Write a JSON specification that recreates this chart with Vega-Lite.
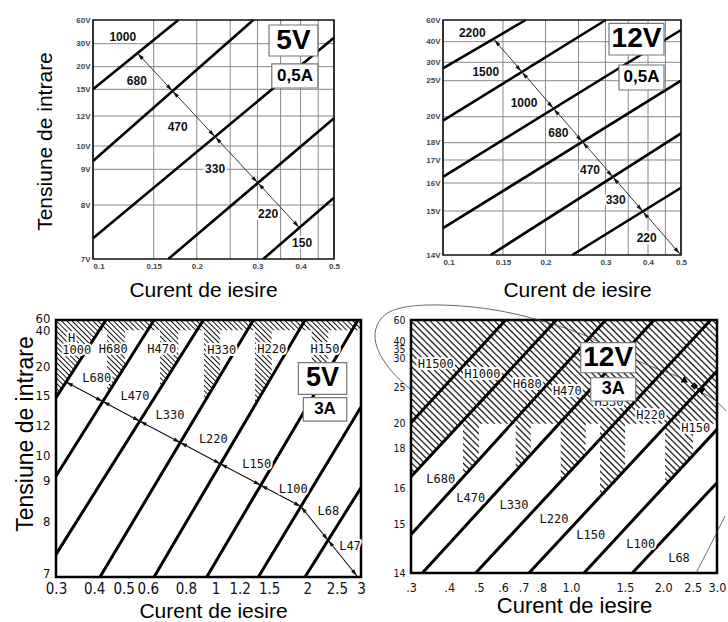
{
"$schema": "https://vega.github.io/schema/vega-lite/v6.json",
"padding": {"left": 12, "top": 14, "right": 0, "bottom": 0},
"config": {"view": {"stroke": null}},
"bounds": "flush",
"columns": 2,
"spacing": {"row": 61, "column": 50},
"datasets": {
"p1L": [{"id":1,"x":0.1,"v":15},{"id":1,"x":0.1768,"v":60},{"id":2,"x":0.1,"v":9.356},{"id":2,"x":0.2917,"v":60},{"id":3,"x":0.1,"v":7.383},{"id":3,"x":0.5,"v":37.6},{"id":4,"x":0.1654,"v":7},{"id":4,"x":0.5,"v":11.85},{"id":5,"x":0.3118,"v":7},{"id":5,"x":0.5,"v":8.204}],
"p1GX": [{"x":0.15,"v":7,"v2":60},{"x":0.2,"v":7,"v2":60},{"x":0.25,"v":7,"v2":60},{"x":0.3,"v":7,"v2":60},{"x":0.35,"v":7,"v2":60},{"x":0.4,"v":7,"v2":60},{"x":0.45,"v":7,"v2":60}],
"p1GY": [{"v":8,"x":0.1,"x2":0.5},{"v":9,"x":0.1,"x2":0.5},{"v":10,"x":0.1,"x2":0.5},{"v":12,"x":0.1,"x2":0.5},{"v":15,"x":0.1,"x2":0.5},{"v":20,"x":0.1,"x2":0.5},{"v":30,"x":0.1,"x2":0.5}],
"p1F": [{"x":0.1,"x2":0.5,"v":7,"v2":60}],
"p1A": [{"x":0.1346,"v":25.87},{"x":0.3968,"v":7.581}],
"p1H": [{"d":"ul","x":0.1369,"v":24.61},{"d":"ul","x":0.1731,"v":14.48},{"d":"ul","x":0.23,"v":10.43},{"d":"ul","x":0.3061,"v":8.54},{"d":"dr","x":0.167,"v":15.27},{"d":"dr","x":0.2218,"v":10.81},{"d":"dr","x":0.2952,"v":8.7},{"d":"dr","x":0.3897,"v":7.635}],
"p1T": [{"t":"1000","x":0.122,"v":38.5},{"t":"680","x":0.134,"v":16.84},{"t":"470","x":0.176,"v":11.27},{"t":"330","x":0.226,"v":9.01},{"t":"220","x":0.322,"v":7.83},{"t":"150","x":0.404,"v":7.3}],
"p1B": [{"x":0.324,"x2":0.449,"v":53.7,"v2":24.65},{"x":0.33,"x2":0.449,"v":21.2,"v2":15.29}],
"p1BT": [{"k":"a","t":"5V","x":0.3815,"v":34.05},{"k":"b","t":"0,5A","x":0.3853,"v":17.94}],
"p2L": [{"id":1,"x":0.1,"v":28.37},{"id":1,"x":0.1749,"v":60},{"id":2,"x":0.1,"v":19.69},{"id":2,"x":0.3005,"v":60},{"id":3,"x":0.1,"v":16.27},{"id":3,"x":0.5,"v":50.8},{"id":4,"x":0.1,"v":14.61},{"id":4,"x":0.5,"v":25},{"id":5,"x":0.138,"v":14},{"id":5,"x":0.5,"v":18.72},{"id":6,"x":0.2397,"v":14},{"id":6,"x":0.5,"v":15.83}],
"p2GX": [{"x":0.15,"v":14,"v2":60},{"x":0.2,"v":14,"v2":60},{"x":0.25,"v":14,"v2":60},{"x":0.3,"v":14,"v2":60},{"x":0.35,"v":14,"v2":60},{"x":0.4,"v":14,"v2":60},{"x":0.45,"v":14,"v2":60}],
"p2GY": [{"v":15,"x":0.1,"x2":0.5},{"v":16,"x":0.1,"x2":0.5},{"v":17,"x":0.1,"x2":0.5},{"v":18,"x":0.1,"x2":0.5},{"v":20,"x":0.1,"x2":0.5},{"v":25,"x":0.1,"x2":0.5},{"v":30,"x":0.1,"x2":0.5},{"v":40,"x":0.1,"x2":0.5}],
"p2F": [{"x":0.1,"x2":0.5,"v":14,"v2":60}],
"p2A": [{"x":0.1412,"v":42.03},{"x":0.4966,"v":14.02}],
"p2H": [{"d":"ul","x":0.1437,"v":39.61},{"d":"ul","x":0.1733,"v":26.58},{"d":"ul","x":0.2148,"v":20.71},{"d":"ul","x":0.2612,"v":17.87},{"d":"ul","x":0.3208,"v":16.13},{"d":"ul","x":0.3928,"v":14.92},{"d":"dr","x":0.1673,"v":28.21},{"d":"dr","x":0.2074,"v":21.54},{"d":"dr","x":0.2522,"v":18.29},{"d":"dr","x":0.3097,"v":16.39},{"d":"dr","x":0.3792,"v":15.09},{"d":"dr","x":0.488,"v":14.09}],
"p2T": [{"t":"2200","x":0.1219,"v":47.74},{"t":"1500","x":0.1335,"v":27.45},{"t":"1000","x":0.1729,"v":21.94},{"t":"680","x":0.2181,"v":18.77},{"t":"470","x":0.2702,"v":16.57},{"t":"330","x":0.3215,"v":15.39},{"t":"220","x":0.3965,"v":14.39}],
"p2B": [{"x":0.3073,"x2":0.4457,"v":56.96,"v2":33.54},{"x":0.3287,"x2":0.4457,"v":29.27,"v2":23.71}],
"p2BT": [{"k":"a","t":"12V","x":0.3701,"v":42.3},{"k":"b","t":"0,5A","x":0.3828,"v":25.87}],
"p3L": [{"id":1,"x":0.3,"v":14.76},{"id":1,"x":0.4376,"v":60},{"id":2,"x":0.3,"v":9.175},{"id":2,"x":0.6289,"v":60},{"id":3,"x":0.3,"v":7.41},{"id":3,"x":0.9124,"v":60},{"id":4,"x":0.4182,"v":7},{"id":4,"x":1.331,"v":60},{"id":5,"x":0.6289,"v":7},{"id":5,"x":1.966,"v":60},{"id":6,"x":0.9361,"v":7},{"id":6,"x":2.933,"v":60},{"id":7,"x":1.382,"v":7},{"id":7,"x":3,"v":13.82},{"id":8,"x":1.966,"v":7},{"id":8,"x":3,"v":8.821}],
"p3G": [{"x":0.3,"v":14.76},{"x":0.4164,"v":40},{"x":0.441,"v":40},{"x":0.4411,"v":15.09},{"x":0.5052,"v":20.27},{"x":0.5053,"v":40},{"x":0.658,"v":40},{"x":0.6581,"v":16.12},{"x":0.7553,"v":23.79},{"x":0.7554,"v":40},{"x":0.9172,"v":40},{"x":0.9173,"v":14.26},{"x":1.035,"v":18.41},{"x":1.0351,"v":40},{"x":1.348,"v":40},{"x":1.3481,"v":14.01},{"x":1.529,"v":18.25},{"x":1.5291,"v":40},{"x":2.068,"v":40},{"x":2.0681,"v":14.67},{"x":2.344,"v":19.35},{"x":2.3441,"v":40},{"x":3,"v":40}],
"p3A": [{"x":0.3235,"v":17.33},{"x":0.4271,"v":14.37},{"x":0.5649,"v":12.39},{"x":0.7662,"v":10.86},{"x":1.039,"v":9.667},{"x":1.407,"v":8.882},{"x":1.906,"v":8.367},{"x":2.34,"v":7.665},{"x":2.911,"v":7.018}],
"p3H": [{"d":"ul","x":0.3312,"v":17.05},{"d":"ul","x":0.4372,"v":14.21},{"d":"ul","x":0.5783,"v":12.23},{"d":"ul","x":0.7844,"v":10.76},{"d":"ul","x":1.063,"v":9.602},{"d":"ul","x":1.44,"v":8.843},{"d":"dr","x":0.4173,"v":14.54},{"d":"dr","x":0.5518,"v":12.56},{"d":"dr","x":0.7486,"v":10.96},{"d":"dr","x":1.015,"v":9.732},{"d":"dr","x":1.374,"v":8.92},{"d":"dr","x":1.862,"v":8.406},{"d":"ul2","x":1.938,"v":8.302},{"d":"ul2","x":2.379,"v":7.617},{"d":"dr2","x":2.301,"v":7.714},{"d":"dr2","x":2.863,"v":7.067}],
"p3T": [{"t":"H","x":0.3377,"v":35.93},{"t":"1000","x":0.3507,"v":29.01},{"t":"H680","x":0.4624,"v":29.56},{"t":"H470","x":0.6665,"v":29.56},{"t":"H330","x":1.0485,"v":29.01},{"t":"H220","x":1.529,"v":29.56},{"t":"H150","x":2.286,"v":29.56},{"t":"L680","x":0.408,"v":18.08},{"t":"L470","x":0.5447,"v":14.93},{"t":"L330","x":0.7094,"v":12.98},{"t":"L220","x":0.984,"v":11.07},{"t":"L150","x":1.365,"v":9.65},{"t":"L100","x":1.799,"v":8.783},{"t":"L68","x":2.344,"v":8.258},{"t":"L47","x":2.761,"v":7.561}],
"p3B": [{"x":1.869,"x2":2.694,"v":22.2,"v2":15.17},{"x":1.941,"x2":2.694,"v":14.76,"v2":12.4}],
"p3BT": [{"k":"a","t":"5V","x":2.243,"v":17.94},{"k":"b","t":"3A","x":2.286,"v":13.59}],
"p4L": [{"id":1,"x":0.3,"v":20.14},{"id":1,"x":0.6117,"v":60},{"id":2,"x":0.3,"v":16.58},{"id":2,"x":0.8956,"v":60},{"id":3,"x":0.3,"v":14.79},{"id":3,"x":1.298,"v":60},{"id":4,"x":0.3267,"v":14},{"id":4,"x":1.867,"v":60},{"id":5,"x":0.4881,"v":14},{"id":5,"x":2.861,"v":60},{"id":6,"x":0.729,"v":14},{"id":6,"x":3,"v":27.62},{"id":7,"x":1.103,"v":14},{"id":7,"x":3,"v":19.54},{"id":8,"x":1.586,"v":14},{"id":8,"x":3,"v":16.28}],
"p4G": [{"x":0.3,"v":16.58},{"x":0.4339,"v":20},{"x":0.4437,"v":20},{"x":0.4438,"v":16.58},{"x":0.5003,"v":17.46},{"x":0.5004,"v":20},{"x":0.6595,"v":20},{"x":0.6596,"v":16.88},{"x":0.7383,"v":17.69},{"x":0.7384,"v":20},{"x":0.9255,"v":20},{"x":0.9256,"v":16.35},{"x":1.117,"v":17.7},{"x":1.1171,"v":20},{"x":1.244,"v":20},{"x":1.2441,"v":15.78},{"x":1.502,"v":16.94},{"x":1.5021,"v":20},{"x":2.029,"v":20},{"x":2.0291,"v":16.16},{"x":2.505,"v":17.67},{"x":2.5051,"v":20},{"x":3,"v":20}],
"p4T": [{"t":"H1500","x":0.3614,"v":28.72},{"t":"H1000","x":0.5131,"v":27.18},{"t":"H680","x":0.7197,"v":25.54},{"t":"H470","x":0.9729,"v":24.46},{"t":"H330","x":1.331,"v":22.96},{"t":"H220","x":1.822,"v":21.14},{"t":"H150","x":2.556,"v":19.63},{"t":"L680","x":0.3751,"v":16.45},{"t":"L470","x":0.4702,"v":15.74},{"t":"L330","x":0.6513,"v":15.54},{"t":"L220","x":0.88,"v":15.14},{"t":"L150","x":1.16,"v":14.79},{"t":"L100","x":1.69,"v":14.6},{"t":"L68","x":2.254,"v":14.31}],
"p4B": [{"x":1.076,"x2":1.627,"v":40.26,"v2":27.34},{"x":1.16,"x2":1.627,"v":26.52,"v2":23.09}],
"p4BT": [{"k":"a","t":"12V","x":1.323,"v":29.8},{"k":"b","t":"3A","x":1.374,"v":24.69}],
"p4M": [{"s":"a","x":2.345,"v":26.26},{"s":"b","x":2.529,"v":25.16},{"s":"c","x":2.674,"v":24.41}],
"p4C": [{"id":1,"o":1,"x":0.2977,"v":24.73},{"id":1,"o":2,"x":0.26,"v":27.3},{"id":1,"o":3,"x":0.234,"v":32.5},{"id":1,"o":4,"x":0.2253,"v":47.83},{"id":1,"o":5,"x":0.2376,"v":62.61},{"id":1,"o":6,"x":0.266,"v":70.43},{"id":1,"o":7,"x":0.3333,"v":73.91},{"id":1,"o":8,"x":0.4676,"v":72.17},{"id":1,"o":9,"x":0.6318,"v":66.96},{"id":1,"o":10,"x":0.8537,"v":57.39},{"id":1,"o":11,"x":1.154,"v":46.09},{"id":1,"o":12,"x":1.619,"v":29.26},{"id":1,"o":13,"x":2.305,"v":26.48},{"id":2,"o":1,"x":2.7,"v":24.18},{"id":2,"o":2,"x":2.978,"v":23.23},{"id":2,"o":3,"x":3.211,"v":21.73},{"id":3,"o":1,"x":2.562,"v":14},{"id":3,"o":2,"x":2.846,"v":14.55},{"id":3,"o":3,"x":3.186,"v":15.23}]
},
"concat": [
 {"width": 305, "height": 239,
  "encoding": {
   "x": {"field": "x", "type": "quantitative", "scale": {"type": "log", "domain": [0.1, 0.5], "range": [37, 278], "nice": false},
    "axis": {"values": [0.1,0.15,0.2,0.3,0.4,0.5], "format": "~g", "grid": false, "ticks": false, "domain": false, "labelFont": "Liberation Sans", "labelFontSize": 8, "labelFontWeight": "bold", "labelColor": "#444", "labelPadding": 3, "labelFlush": false, "labelOverlap": false, "labelAlign": {"condition": {"test": "datum.value == 0.1", "value": "left"}, "value": "center"}, "title": "Curent de iesire", "titleFont": "Liberation Sans", "titleFontSize": 21, "titleFontWeight": "normal", "titleColor": "#000", "titleX": 147, "titleY": 37, "titleBaseline": "alphabetic", "titleAlign": "center"}},
   "y": {"field": "v", "type": "quantitative", "scale": {"domain": [7,8,9,10,12,15,20,30,60], "range": [239,185,149.3,126,96,69.3,46.7,23.7,0], "nice": false, "zero": false},
    "axis": {"offset": -37, "values": [7,8,9,10,12,15,20,30,60], "labelExpr": "datum.value + 'V'", "grid": false, "ticks": false, "domain": false, "labelFont": "Liberation Sans", "labelFontSize": 8, "labelFontWeight": "bold", "labelColor": "#444", "labelPadding": 3, "labelFlush": false, "labelOverlap": false, "title": "Tensiune de intrare", "titleFont": "Liberation Sans", "titleFontSize": 21, "titleFontWeight": "normal", "titleColor": "#000", "titleX": -41.5, "titleY": 121, "titleBaseline": "alphabetic", "titleAngle": 270}}
  },
  "layer": [
   {"data": {"name": "p1GX"}, "mark": {"type": "rule", "color": "#888", "strokeWidth": 1}, "encoding": {"y2": {"field": "v2"}}},
   {"data": {"name": "p1GY"}, "mark": {"type": "rule", "color": "#888", "strokeWidth": 1}, "encoding": {"x2": {"field": "x2"}}},
   {"data": {"name": "p1L"}, "mark": {"type": "line", "color": "#000", "strokeWidth": 2.6}, "encoding": {"detail": {"field": "id", "type": "nominal"}}},
   {"data": {"name": "p1A"}, "mark": {"type": "line", "color": "#222", "strokeWidth": 0.9}, "encoding": {}},
   {"data": {"name": "p1H"}, "transform": [{"filter": "datum.d == 'dr'"}], "mark": {"type": "point", "shape": "M0,-1L0.55,1L-0.55,1Z", "filled": true, "color": "#111", "opacity": 1, "size": 49, "angle": 137}},
   {"data": {"name": "p1H"}, "transform": [{"filter": "datum.d == 'ul'"}], "mark": {"type": "point", "shape": "M0,-1L0.55,1L-0.55,1Z", "filled": true, "color": "#111", "opacity": 1, "size": 49, "angle": 317}},
   {"data": {"name": "p1T"}, "mark": {"type": "text", "font": "Liberation Sans", "fontSize": 12, "fontWeight": "bold", "stroke": "#fff", "strokeWidth": 4, "strokeJoin": "round", "color": "#fff"}, "encoding": {"text": {"field": "t"}}},
   {"data": {"name": "p1T"}, "mark": {"type": "text", "font": "Liberation Sans", "fontSize": 12, "fontWeight": "bold", "color": "#111"}, "encoding": {"text": {"field": "t"}}},
   {"data": {"name": "p1B"}, "mark": {"type": "rect", "fill": "#fff", "stroke": "#777", "strokeWidth": 1.2}, "encoding": {"x2": {"field": "x2"}, "y2": {"field": "v2"}}},
   {"data": {"name": "p1BT"}, "transform": [{"filter": "datum.k == 'a'"}], "mark": {"type": "text", "font": "Liberation Sans", "fontSize": 28, "fontWeight": "bold", "color": "#000"}, "encoding": {"text": {"field": "t"}}},
   {"data": {"name": "p1BT"}, "transform": [{"filter": "datum.k == 'b'"}], "mark": {"type": "text", "font": "Liberation Sans", "fontSize": 17, "fontWeight": "bold", "color": "#000"}, "encoding": {"text": {"field": "t"}}},
   {"data": {"name": "p1F"}, "mark": {"type": "rect", "fill": null, "stroke": "#111", "strokeWidth": 1.7}, "encoding": {"x2": {"field": "x2"}, "y2": {"field": "v2"}}}
  ]
 },
 {"width": 306, "height": 235,
  "encoding": {
   "x": {"field": "x", "type": "quantitative", "scale": {"type": "log", "domain": [0.1, 0.5], "range": [32, 270], "nice": false},
    "axis": {"values": [0.1,0.15,0.2,0.3,0.4,0.5], "format": "~g", "grid": false, "ticks": false, "domain": false, "labelFont": "Liberation Sans", "labelFontSize": 8, "labelFontWeight": "bold", "labelColor": "#444", "labelPadding": 3, "labelFlush": false, "labelOverlap": false, "labelAlign": {"condition": {"test": "datum.value == 0.1", "value": "left"}, "value": "center"}, "title": "Curent de iesire", "titleFont": "Liberation Sans", "titleFontSize": 21, "titleFontWeight": "normal", "titleColor": "#000", "titleX": 166, "titleY": 41, "titleBaseline": "alphabetic", "titleAlign": "center"}},
   "y": {"field": "v", "type": "quantitative", "scale": {"domain": [14,15,16,17,18,20,25,30,40,60], "range": [235,191,163,140,122.7,96.7,60.7,42.3,21.7,0], "nice": false, "zero": false},
    "axis": {"offset": -32, "values": [14,15,16,17,18,20,25,30,40,60], "labelExpr": "datum.value + 'V'", "grid": false, "ticks": false, "domain": false, "labelFont": "Liberation Sans", "labelFontSize": 8, "labelFontWeight": "bold", "labelColor": "#444", "labelPadding": 3, "labelFlush": false, "labelOverlap": false, "title": null}}
  },
  "layer": [
   {"data": {"name": "p2GX"}, "mark": {"type": "rule", "color": "#888", "strokeWidth": 1}, "encoding": {"y2": {"field": "v2"}}},
   {"data": {"name": "p2GY"}, "mark": {"type": "rule", "color": "#888", "strokeWidth": 1}, "encoding": {"x2": {"field": "x2"}}},
   {"data": {"name": "p2L"}, "mark": {"type": "line", "color": "#000", "strokeWidth": 2.6}, "encoding": {"detail": {"field": "id", "type": "nominal"}}},
   {"data": {"name": "p2A"}, "mark": {"type": "line", "color": "#222", "strokeWidth": 0.9}, "encoding": {}},
   {"data": {"name": "p2H"}, "transform": [{"filter": "datum.d == 'dr'"}], "mark": {"type": "point", "shape": "M0,-1L0.55,1L-0.55,1Z", "filled": true, "color": "#111", "opacity": 1, "size": 49, "angle": 139}},
   {"data": {"name": "p2H"}, "transform": [{"filter": "datum.d == 'ul'"}], "mark": {"type": "point", "shape": "M0,-1L0.55,1L-0.55,1Z", "filled": true, "color": "#111", "opacity": 1, "size": 49, "angle": 319}},
   {"data": {"name": "p2T"}, "mark": {"type": "text", "font": "Liberation Sans", "fontSize": 12, "fontWeight": "bold", "stroke": "#fff", "strokeWidth": 4, "strokeJoin": "round", "color": "#fff"}, "encoding": {"text": {"field": "t"}}},
   {"data": {"name": "p2T"}, "mark": {"type": "text", "font": "Liberation Sans", "fontSize": 12, "fontWeight": "bold", "color": "#111"}, "encoding": {"text": {"field": "t"}}},
   {"data": {"name": "p2B"}, "mark": {"type": "rect", "fill": "#fff", "stroke": "#777", "strokeWidth": 1.2}, "encoding": {"x2": {"field": "x2"}, "y2": {"field": "v2"}}},
   {"data": {"name": "p2BT"}, "transform": [{"filter": "datum.k == 'a'"}], "mark": {"type": "text", "font": "Liberation Sans", "fontSize": 28, "fontWeight": "bold", "color": "#000"}, "encoding": {"text": {"field": "t"}}},
   {"data": {"name": "p2BT"}, "transform": [{"filter": "datum.k == 'b'"}], "mark": {"type": "text", "font": "Liberation Sans", "fontSize": 17, "fontWeight": "bold", "color": "#000"}, "encoding": {"text": {"field": "t"}}},
   {"data": {"name": "p2F"}, "mark": {"type": "rect", "fill": null, "stroke": "#111", "strokeWidth": 1.7}, "encoding": {"x2": {"field": "x2"}, "y2": {"field": "v2"}}}
  ]
 },
 {"width": 305, "height": 257,
  "view": {"stroke": "#000", "strokeWidth": 2.5},
  "encoding": {
   "x": {"field": "x", "type": "quantitative", "scale": {"type": "log", "domain": [0.3, 3], "nice": false},
    "axis": {"values": [0.3,0.4,0.5,0.6,0.8,1,1.2,1.5,2,2.5,3], "format": "~g", "grid": false, "ticks": false, "domain": false, "labelFont": "DejaVu Sans Condensed", "labelFontSize": 15, "labelColor": "#111", "labelPadding": 4, "labelFlush": false, "labelOverlap": false, "title": "Curent de iesire", "titleFont": "Liberation Sans", "titleFontSize": 21, "titleFontWeight": "normal", "titleColor": "#000", "titleX": 157, "titleY": 40, "titleBaseline": "alphabetic", "titleAlign": "center"}},
   "y": {"field": "v", "type": "quantitative", "scale": {"domain": [7,8,9,10,12,15,20,40,60], "range": [257,201.7,160.3,135.7,105,75.3,46.7,10.3,0], "nice": false, "zero": false},
    "axis": {"values": [7,8,9,10,12,15,20,40,60], "grid": false, "ticks": false, "domain": false, "labelFont": "DejaVu Sans Condensed", "labelFontSize": 13, "labelColor": "#111", "labelPadding": 6, "labelFlush": false, "labelOverlap": false, "labelOffset": {"condition": [{"test": "datum.value == 60", "value": -2}, {"test": "datum.value == 7", "value": -4}], "value": 0}, "title": "Tensiune de intrare", "titleFont": "Liberation Sans", "titleFontSize": 23, "titleFontWeight": "normal", "titleColor": "#000", "titleX": -24, "titleY": 113.5, "titleBaseline": "alphabetic", "titleAngle": 270}}
  },
  "layer": [
   {"data": {"values": [{"x":0.4},{"x":0.5},{"x":0.6},{"x":0.7},{"x":0.8},{"x":0.9},{"x":1},{"x":1.2},{"x":1.5},{"x":2},{"x":2.5}]}, "mark": {"type": "rule", "color": "#333", "strokeWidth": 1}, "encoding": {"y": {"datum": 7}, "y2": {"datum": 60}}},
   {"data": {"values": [{"v":8},{"v":9},{"v":10},{"v":12},{"v":15},{"v":20},{"v":40}]}, "mark": {"type": "rule", "color": "#333", "strokeWidth": 1}, "encoding": {"x": {"datum": 0.3}, "x2": {"datum": 3}}},
   {"data": {"name": "p3G"}, "mark": {"type": "area", "fill": {"gradient": "linear", "x1": 0, "y1": 1, "x2": 1.1867, "y2": 0.6689, "stops": [
{"offset":0,"color":"#0000"},{"offset":0.0035,"color":"#111"},{"offset":0.007,"color":"#0000"},{"offset":0.0133,"color":"#0000"},{"offset":0.0168,"color":"#111"},{"offset":0.0203,"color":"#0000"},{"offset":0.0267,"color":"#0000"},{"offset":0.0302,"color":"#111"},{"offset":0.0337,"color":"#0000"},
{"offset":0.04,"color":"#0000"},{"offset":0.0435,"color":"#111"},{"offset":0.047,"color":"#0000"},{"offset":0.0533,"color":"#0000"},{"offset":0.0568,"color":"#111"},{"offset":0.0603,"color":"#0000"},{"offset":0.0667,"color":"#0000"},{"offset":0.0702,"color":"#111"},{"offset":0.0737,"color":"#0000"},
{"offset":0.08,"color":"#0000"},{"offset":0.0835,"color":"#111"},{"offset":0.087,"color":"#0000"},{"offset":0.0933,"color":"#0000"},{"offset":0.0968,"color":"#111"},{"offset":0.1003,"color":"#0000"},{"offset":0.1067,"color":"#0000"},{"offset":0.1102,"color":"#111"},{"offset":0.1137,"color":"#0000"},
{"offset":0.12,"color":"#0000"},{"offset":0.1235,"color":"#111"},{"offset":0.127,"color":"#0000"},{"offset":0.1333,"color":"#0000"},{"offset":0.1368,"color":"#111"},{"offset":0.1403,"color":"#0000"},{"offset":0.1467,"color":"#0000"},{"offset":0.1502,"color":"#111"},{"offset":0.1537,"color":"#0000"},
{"offset":0.16,"color":"#0000"},{"offset":0.1635,"color":"#111"},{"offset":0.167,"color":"#0000"},{"offset":0.1733,"color":"#0000"},{"offset":0.1768,"color":"#111"},{"offset":0.1803,"color":"#0000"},{"offset":0.1867,"color":"#0000"},{"offset":0.1902,"color":"#111"},{"offset":0.1937,"color":"#0000"},
{"offset":0.2,"color":"#0000"},{"offset":0.2035,"color":"#111"},{"offset":0.207,"color":"#0000"},{"offset":0.2133,"color":"#0000"},{"offset":0.2168,"color":"#111"},{"offset":0.2203,"color":"#0000"},{"offset":0.2267,"color":"#0000"},{"offset":0.2302,"color":"#111"},{"offset":0.2337,"color":"#0000"},
{"offset":0.24,"color":"#0000"},{"offset":0.2435,"color":"#111"},{"offset":0.247,"color":"#0000"},{"offset":0.2533,"color":"#0000"},{"offset":0.2568,"color":"#111"},{"offset":0.2603,"color":"#0000"},{"offset":0.2667,"color":"#0000"},{"offset":0.2702,"color":"#111"},{"offset":0.2737,"color":"#0000"},
{"offset":0.28,"color":"#0000"},{"offset":0.2835,"color":"#111"},{"offset":0.287,"color":"#0000"},{"offset":0.2933,"color":"#0000"},{"offset":0.2968,"color":"#111"},{"offset":0.3003,"color":"#0000"},{"offset":0.3067,"color":"#0000"},{"offset":0.3102,"color":"#111"},{"offset":0.3137,"color":"#0000"},
{"offset":0.32,"color":"#0000"},{"offset":0.3235,"color":"#111"},{"offset":0.327,"color":"#0000"},{"offset":0.3333,"color":"#0000"},{"offset":0.3368,"color":"#111"},{"offset":0.3403,"color":"#0000"},{"offset":0.3467,"color":"#0000"},{"offset":0.3502,"color":"#111"},{"offset":0.3537,"color":"#0000"},
{"offset":0.36,"color":"#0000"},{"offset":0.3635,"color":"#111"},{"offset":0.367,"color":"#0000"},{"offset":0.3733,"color":"#0000"},{"offset":0.3768,"color":"#111"},{"offset":0.3803,"color":"#0000"},{"offset":0.3867,"color":"#0000"},{"offset":0.3902,"color":"#111"},{"offset":0.3937,"color":"#0000"},
{"offset":0.4,"color":"#0000"},{"offset":0.4035,"color":"#111"},{"offset":0.407,"color":"#0000"},{"offset":0.4133,"color":"#0000"},{"offset":0.4168,"color":"#111"},{"offset":0.4203,"color":"#0000"},{"offset":0.4267,"color":"#0000"},{"offset":0.4302,"color":"#111"},{"offset":0.4337,"color":"#0000"},
{"offset":0.44,"color":"#0000"},{"offset":0.4435,"color":"#111"},{"offset":0.447,"color":"#0000"},{"offset":0.4533,"color":"#0000"},{"offset":0.4568,"color":"#111"},{"offset":0.4603,"color":"#0000"},{"offset":0.4667,"color":"#0000"},{"offset":0.4702,"color":"#111"},{"offset":0.4737,"color":"#0000"},
{"offset":0.48,"color":"#0000"},{"offset":0.4835,"color":"#111"},{"offset":0.487,"color":"#0000"},{"offset":0.4933,"color":"#0000"},{"offset":0.4968,"color":"#111"},{"offset":0.5003,"color":"#0000"},{"offset":0.5067,"color":"#0000"},{"offset":0.5102,"color":"#111"},{"offset":0.5137,"color":"#0000"},
{"offset":0.52,"color":"#0000"},{"offset":0.5235,"color":"#111"},{"offset":0.527,"color":"#0000"},{"offset":0.5333,"color":"#0000"},{"offset":0.5368,"color":"#111"},{"offset":0.5403,"color":"#0000"},{"offset":0.5467,"color":"#0000"},{"offset":0.5502,"color":"#111"},{"offset":0.5537,"color":"#0000"},
{"offset":0.56,"color":"#0000"},{"offset":0.5635,"color":"#111"},{"offset":0.567,"color":"#0000"},{"offset":0.5733,"color":"#0000"},{"offset":0.5768,"color":"#111"},{"offset":0.5803,"color":"#0000"},{"offset":0.5867,"color":"#0000"},{"offset":0.5902,"color":"#111"},{"offset":0.5937,"color":"#0000"},
{"offset":0.6,"color":"#0000"},{"offset":0.6035,"color":"#111"},{"offset":0.607,"color":"#0000"},{"offset":0.6133,"color":"#0000"},{"offset":0.6168,"color":"#111"},{"offset":0.6203,"color":"#0000"},{"offset":0.6267,"color":"#0000"},{"offset":0.6302,"color":"#111"},{"offset":0.6337,"color":"#0000"},
{"offset":0.64,"color":"#0000"},{"offset":0.6435,"color":"#111"},{"offset":0.647,"color":"#0000"},{"offset":0.6533,"color":"#0000"},{"offset":0.6568,"color":"#111"},{"offset":0.6603,"color":"#0000"},{"offset":0.6667,"color":"#0000"},{"offset":0.6702,"color":"#111"},{"offset":0.6737,"color":"#0000"},
{"offset":0.68,"color":"#0000"},{"offset":0.6835,"color":"#111"},{"offset":0.687,"color":"#0000"},{"offset":0.6933,"color":"#0000"},{"offset":0.6968,"color":"#111"},{"offset":0.7003,"color":"#0000"},{"offset":0.7067,"color":"#0000"},{"offset":0.7102,"color":"#111"},{"offset":0.7137,"color":"#0000"},
{"offset":0.72,"color":"#0000"},{"offset":0.7235,"color":"#111"},{"offset":0.727,"color":"#0000"},{"offset":0.7333,"color":"#0000"},{"offset":0.7368,"color":"#111"},{"offset":0.7403,"color":"#0000"},{"offset":0.7467,"color":"#0000"},{"offset":0.7502,"color":"#111"},{"offset":0.7537,"color":"#0000"},
{"offset":0.76,"color":"#0000"},{"offset":0.7635,"color":"#111"},{"offset":0.767,"color":"#0000"},{"offset":0.7733,"color":"#0000"},{"offset":0.7768,"color":"#111"},{"offset":0.7803,"color":"#0000"},{"offset":0.7867,"color":"#0000"},{"offset":0.7902,"color":"#111"},{"offset":0.7937,"color":"#0000"},
{"offset":0.8,"color":"#0000"},{"offset":0.8035,"color":"#111"},{"offset":0.807,"color":"#0000"},{"offset":0.8133,"color":"#0000"},{"offset":0.8168,"color":"#111"},{"offset":0.8203,"color":"#0000"},{"offset":0.8267,"color":"#0000"},{"offset":0.8302,"color":"#111"},{"offset":0.8337,"color":"#0000"},
{"offset":0.84,"color":"#0000"},{"offset":0.8435,"color":"#111"},{"offset":0.847,"color":"#0000"},{"offset":0.8533,"color":"#0000"},{"offset":0.8568,"color":"#111"},{"offset":0.8603,"color":"#0000"},{"offset":0.8667,"color":"#0000"},{"offset":0.8702,"color":"#111"},{"offset":0.8737,"color":"#0000"},
{"offset":0.88,"color":"#0000"},{"offset":0.8835,"color":"#111"},{"offset":0.887,"color":"#0000"},{"offset":0.8933,"color":"#0000"},{"offset":0.8968,"color":"#111"},{"offset":0.9003,"color":"#0000"},{"offset":0.9067,"color":"#0000"},{"offset":0.9102,"color":"#111"},{"offset":0.9137,"color":"#0000"},
{"offset":0.92,"color":"#0000"},{"offset":0.9235,"color":"#111"},{"offset":0.927,"color":"#0000"},{"offset":0.9333,"color":"#0000"},{"offset":0.9368,"color":"#111"},{"offset":0.9403,"color":"#0000"},{"offset":0.9467,"color":"#0000"},{"offset":0.9502,"color":"#111"},{"offset":0.9537,"color":"#0000"},
{"offset":0.96,"color":"#0000"},{"offset":0.9635,"color":"#111"},{"offset":0.967,"color":"#0000"},{"offset":0.9733,"color":"#0000"},{"offset":0.9768,"color":"#111"},{"offset":0.9803,"color":"#0000"},{"offset":0.9867,"color":"#0000"},{"offset":0.9902,"color":"#111"},{"offset":0.9937,"color":"#0000"}
   ]}}, "encoding": {"y2": {"datum": 60}}},
   {"data": {"name": "p3L"}, "mark": {"type": "line", "color": "#000", "strokeWidth": 3}, "encoding": {"detail": {"field": "id", "type": "nominal"}}},
   {"data": {"name": "p3A"}, "mark": {"type": "line", "color": "#111", "strokeWidth": 1.1}, "encoding": {}},
   {"data": {"name": "p3H"}, "transform": [{"filter": "datum.d == 'dr'"}], "mark": {"type": "point", "shape": "M0,-1L0.55,1L-0.55,1Z", "filled": true, "color": "#111", "opacity": 1, "size": 49, "angle": 118}},
   {"data": {"name": "p3H"}, "transform": [{"filter": "datum.d == 'ul'"}], "mark": {"type": "point", "shape": "M0,-1L0.55,1L-0.55,1Z", "filled": true, "color": "#111", "opacity": 1, "size": 49, "angle": 298}},
   {"data": {"name": "p3H"}, "transform": [{"filter": "datum.d == 'dr2'"}], "mark": {"type": "point", "shape": "M0,-1L0.55,1L-0.55,1Z", "filled": true, "color": "#111", "opacity": 1, "size": 49, "angle": 141}},
   {"data": {"name": "p3H"}, "transform": [{"filter": "datum.d == 'ul2'"}], "mark": {"type": "point", "shape": "M0,-1L0.55,1L-0.55,1Z", "filled": true, "color": "#111", "opacity": 1, "size": 49, "angle": 321}},
   {"data": {"name": "p3T"}, "mark": {"type": "text", "font": "DejaVu Sans Mono", "fontSize": 12, "stroke": "#fff", "strokeWidth": 4, "strokeJoin": "round", "color": "#fff"}, "encoding": {"text": {"field": "t"}}},
   {"data": {"name": "p3T"}, "mark": {"type": "text", "font": "DejaVu Sans Mono", "fontSize": 12, "color": "#111"}, "encoding": {"text": {"field": "t"}}},
   {"data": {"name": "p3B"}, "mark": {"type": "rect", "fill": "#fff", "stroke": "#777", "strokeWidth": 1.2}, "encoding": {"x2": {"field": "x2"}, "y2": {"field": "v2"}}},
   {"data": {"name": "p3BT"}, "transform": [{"filter": "datum.k == 'a'"}], "mark": {"type": "text", "font": "Liberation Sans", "fontSize": 27, "fontWeight": "bold", "color": "#000"}, "encoding": {"text": {"field": "t"}}},
   {"data": {"name": "p3BT"}, "transform": [{"filter": "datum.k == 'b'"}], "mark": {"type": "text", "font": "Liberation Sans", "fontSize": 17, "fontWeight": "bold", "color": "#000"}, "encoding": {"text": {"field": "t"}}}
  ]
 },
 {"width": 306, "height": 253,
  "view": {"stroke": "#000", "strokeWidth": 2.5},
  "encoding": {
   "x": {"field": "x", "type": "quantitative", "scale": {"type": "log", "domain": [0.3, 3], "nice": false},
    "axis": {"values": [0.3,0.4,0.5,0.6,0.7,0.8,1,1.5,2,2.5,3], "labelExpr": "datum.value < 1 ? '.' + round(datum.value*10) : format(datum.value, '.1f')", "grid": false, "ticks": false, "domain": false, "labelFont": "DejaVu Sans Condensed", "labelFontSize": 12.5, "labelColor": "#111", "labelPadding": 8, "labelFlush": false, "labelOverlap": false, "title": "Curent de iesire", "titleFont": "Liberation Sans", "titleFontSize": 22, "titleFontWeight": "normal", "titleColor": "#000", "titleX": 163, "titleY": 39, "titleBaseline": "alphabetic", "titleAlign": "center"}},
   "y": {"field": "v", "type": "quantitative", "scale": {"domain": [14,15,16,18,20,25,30,35,40,60], "range": [253,204.3,168.3,128.3,103.7,67,36.5,29.5,23,0], "nice": false, "zero": false},
    "axis": {"values": [14,15,16,18,20,25,30,35,40,60], "grid": false, "ticks": false, "domain": false, "labelFont": "DejaVu Sans Condensed", "labelFontSize": 10.5, "labelColor": "#111", "labelPadding": 6, "labelFlush": false, "labelOverlap": false, "labelOffset": {"condition": [{"test": "datum.value == 40", "value": -1.5}, {"test": "datum.value == 30", "value": 1.5}], "value": 0}, "title": null}}
  },
  "layer": [
   {"data": {"values": [{"x":0.4},{"x":0.5},{"x":0.6},{"x":0.7},{"x":0.8},{"x":0.9},{"x":1},{"x":1.5},{"x":2},{"x":2.5}]}, "mark": {"type": "rule", "color": "#333", "strokeWidth": 1}, "encoding": {"y": {"datum": 14}, "y2": {"datum": 60}}},
   {"data": {"values": [{"v":15},{"v":16},{"v":18},{"v":20},{"v":25},{"v":30},{"v":35},{"v":40}]}, "mark": {"type": "rule", "color": "#333", "strokeWidth": 1}, "encoding": {"x": {"datum": 0.3}, "x2": {"datum": 3}}},
   {"data": {"name": "p4G"}, "mark": {"type": "area", "fill": {"gradient": "linear", "x1": 0, "y1": 1, "x2": 1.1833, "y2": 0.3178, "stops": [
{"offset":0,"color":"#0000"},{"offset":0.0035,"color":"#111"},{"offset":0.007,"color":"#0000"},{"offset":0.0133,"color":"#0000"},{"offset":0.0168,"color":"#111"},{"offset":0.0203,"color":"#0000"},{"offset":0.0267,"color":"#0000"},{"offset":0.0302,"color":"#111"},{"offset":0.0337,"color":"#0000"},
{"offset":0.04,"color":"#0000"},{"offset":0.0435,"color":"#111"},{"offset":0.047,"color":"#0000"},{"offset":0.0533,"color":"#0000"},{"offset":0.0568,"color":"#111"},{"offset":0.0603,"color":"#0000"},{"offset":0.0667,"color":"#0000"},{"offset":0.0702,"color":"#111"},{"offset":0.0737,"color":"#0000"},
{"offset":0.08,"color":"#0000"},{"offset":0.0835,"color":"#111"},{"offset":0.087,"color":"#0000"},{"offset":0.0933,"color":"#0000"},{"offset":0.0968,"color":"#111"},{"offset":0.1003,"color":"#0000"},{"offset":0.1067,"color":"#0000"},{"offset":0.1102,"color":"#111"},{"offset":0.1137,"color":"#0000"},
{"offset":0.12,"color":"#0000"},{"offset":0.1235,"color":"#111"},{"offset":0.127,"color":"#0000"},{"offset":0.1333,"color":"#0000"},{"offset":0.1368,"color":"#111"},{"offset":0.1403,"color":"#0000"},{"offset":0.1467,"color":"#0000"},{"offset":0.1502,"color":"#111"},{"offset":0.1537,"color":"#0000"},
{"offset":0.16,"color":"#0000"},{"offset":0.1635,"color":"#111"},{"offset":0.167,"color":"#0000"},{"offset":0.1733,"color":"#0000"},{"offset":0.1768,"color":"#111"},{"offset":0.1803,"color":"#0000"},{"offset":0.1867,"color":"#0000"},{"offset":0.1902,"color":"#111"},{"offset":0.1937,"color":"#0000"},
{"offset":0.2,"color":"#0000"},{"offset":0.2035,"color":"#111"},{"offset":0.207,"color":"#0000"},{"offset":0.2133,"color":"#0000"},{"offset":0.2168,"color":"#111"},{"offset":0.2203,"color":"#0000"},{"offset":0.2267,"color":"#0000"},{"offset":0.2302,"color":"#111"},{"offset":0.2337,"color":"#0000"},
{"offset":0.24,"color":"#0000"},{"offset":0.2435,"color":"#111"},{"offset":0.247,"color":"#0000"},{"offset":0.2533,"color":"#0000"},{"offset":0.2568,"color":"#111"},{"offset":0.2603,"color":"#0000"},{"offset":0.2667,"color":"#0000"},{"offset":0.2702,"color":"#111"},{"offset":0.2737,"color":"#0000"},
{"offset":0.28,"color":"#0000"},{"offset":0.2835,"color":"#111"},{"offset":0.287,"color":"#0000"},{"offset":0.2933,"color":"#0000"},{"offset":0.2968,"color":"#111"},{"offset":0.3003,"color":"#0000"},{"offset":0.3067,"color":"#0000"},{"offset":0.3102,"color":"#111"},{"offset":0.3137,"color":"#0000"},
{"offset":0.32,"color":"#0000"},{"offset":0.3235,"color":"#111"},{"offset":0.327,"color":"#0000"},{"offset":0.3333,"color":"#0000"},{"offset":0.3368,"color":"#111"},{"offset":0.3403,"color":"#0000"},{"offset":0.3467,"color":"#0000"},{"offset":0.3502,"color":"#111"},{"offset":0.3537,"color":"#0000"},
{"offset":0.36,"color":"#0000"},{"offset":0.3635,"color":"#111"},{"offset":0.367,"color":"#0000"},{"offset":0.3733,"color":"#0000"},{"offset":0.3768,"color":"#111"},{"offset":0.3803,"color":"#0000"},{"offset":0.3867,"color":"#0000"},{"offset":0.3902,"color":"#111"},{"offset":0.3937,"color":"#0000"},
{"offset":0.4,"color":"#0000"},{"offset":0.4035,"color":"#111"},{"offset":0.407,"color":"#0000"},{"offset":0.4133,"color":"#0000"},{"offset":0.4168,"color":"#111"},{"offset":0.4203,"color":"#0000"},{"offset":0.4267,"color":"#0000"},{"offset":0.4302,"color":"#111"},{"offset":0.4337,"color":"#0000"},
{"offset":0.44,"color":"#0000"},{"offset":0.4435,"color":"#111"},{"offset":0.447,"color":"#0000"},{"offset":0.4533,"color":"#0000"},{"offset":0.4568,"color":"#111"},{"offset":0.4603,"color":"#0000"},{"offset":0.4667,"color":"#0000"},{"offset":0.4702,"color":"#111"},{"offset":0.4737,"color":"#0000"},
{"offset":0.48,"color":"#0000"},{"offset":0.4835,"color":"#111"},{"offset":0.487,"color":"#0000"},{"offset":0.4933,"color":"#0000"},{"offset":0.4968,"color":"#111"},{"offset":0.5003,"color":"#0000"},{"offset":0.5067,"color":"#0000"},{"offset":0.5102,"color":"#111"},{"offset":0.5137,"color":"#0000"},
{"offset":0.52,"color":"#0000"},{"offset":0.5235,"color":"#111"},{"offset":0.527,"color":"#0000"},{"offset":0.5333,"color":"#0000"},{"offset":0.5368,"color":"#111"},{"offset":0.5403,"color":"#0000"},{"offset":0.5467,"color":"#0000"},{"offset":0.5502,"color":"#111"},{"offset":0.5537,"color":"#0000"},
{"offset":0.56,"color":"#0000"},{"offset":0.5635,"color":"#111"},{"offset":0.567,"color":"#0000"},{"offset":0.5733,"color":"#0000"},{"offset":0.5768,"color":"#111"},{"offset":0.5803,"color":"#0000"},{"offset":0.5867,"color":"#0000"},{"offset":0.5902,"color":"#111"},{"offset":0.5937,"color":"#0000"},
{"offset":0.6,"color":"#0000"},{"offset":0.6035,"color":"#111"},{"offset":0.607,"color":"#0000"},{"offset":0.6133,"color":"#0000"},{"offset":0.6168,"color":"#111"},{"offset":0.6203,"color":"#0000"},{"offset":0.6267,"color":"#0000"},{"offset":0.6302,"color":"#111"},{"offset":0.6337,"color":"#0000"},
{"offset":0.64,"color":"#0000"},{"offset":0.6435,"color":"#111"},{"offset":0.647,"color":"#0000"},{"offset":0.6533,"color":"#0000"},{"offset":0.6568,"color":"#111"},{"offset":0.6603,"color":"#0000"},{"offset":0.6667,"color":"#0000"},{"offset":0.6702,"color":"#111"},{"offset":0.6737,"color":"#0000"},
{"offset":0.68,"color":"#0000"},{"offset":0.6835,"color":"#111"},{"offset":0.687,"color":"#0000"},{"offset":0.6933,"color":"#0000"},{"offset":0.6968,"color":"#111"},{"offset":0.7003,"color":"#0000"},{"offset":0.7067,"color":"#0000"},{"offset":0.7102,"color":"#111"},{"offset":0.7137,"color":"#0000"},
{"offset":0.72,"color":"#0000"},{"offset":0.7235,"color":"#111"},{"offset":0.727,"color":"#0000"},{"offset":0.7333,"color":"#0000"},{"offset":0.7368,"color":"#111"},{"offset":0.7403,"color":"#0000"},{"offset":0.7467,"color":"#0000"},{"offset":0.7502,"color":"#111"},{"offset":0.7537,"color":"#0000"},
{"offset":0.76,"color":"#0000"},{"offset":0.7635,"color":"#111"},{"offset":0.767,"color":"#0000"},{"offset":0.7733,"color":"#0000"},{"offset":0.7768,"color":"#111"},{"offset":0.7803,"color":"#0000"},{"offset":0.7867,"color":"#0000"},{"offset":0.7902,"color":"#111"},{"offset":0.7937,"color":"#0000"},
{"offset":0.8,"color":"#0000"},{"offset":0.8035,"color":"#111"},{"offset":0.807,"color":"#0000"},{"offset":0.8133,"color":"#0000"},{"offset":0.8168,"color":"#111"},{"offset":0.8203,"color":"#0000"},{"offset":0.8267,"color":"#0000"},{"offset":0.8302,"color":"#111"},{"offset":0.8337,"color":"#0000"},
{"offset":0.84,"color":"#0000"},{"offset":0.8435,"color":"#111"},{"offset":0.847,"color":"#0000"},{"offset":0.8533,"color":"#0000"},{"offset":0.8568,"color":"#111"},{"offset":0.8603,"color":"#0000"},{"offset":0.8667,"color":"#0000"},{"offset":0.8702,"color":"#111"},{"offset":0.8737,"color":"#0000"},
{"offset":0.88,"color":"#0000"},{"offset":0.8835,"color":"#111"},{"offset":0.887,"color":"#0000"},{"offset":0.8933,"color":"#0000"},{"offset":0.8968,"color":"#111"},{"offset":0.9003,"color":"#0000"},{"offset":0.9067,"color":"#0000"},{"offset":0.9102,"color":"#111"},{"offset":0.9137,"color":"#0000"},
{"offset":0.92,"color":"#0000"},{"offset":0.9235,"color":"#111"},{"offset":0.927,"color":"#0000"},{"offset":0.9333,"color":"#0000"},{"offset":0.9368,"color":"#111"},{"offset":0.9403,"color":"#0000"},{"offset":0.9467,"color":"#0000"},{"offset":0.9502,"color":"#111"},{"offset":0.9537,"color":"#0000"},
{"offset":0.96,"color":"#0000"},{"offset":0.9635,"color":"#111"},{"offset":0.967,"color":"#0000"},{"offset":0.9733,"color":"#0000"},{"offset":0.9768,"color":"#111"},{"offset":0.9803,"color":"#0000"},{"offset":0.9867,"color":"#0000"},{"offset":0.9902,"color":"#111"},{"offset":0.9937,"color":"#0000"}
   ]}}, "encoding": {"y2": {"datum": 60}}},
   {"data": {"name": "p4L"}, "mark": {"type": "line", "color": "#000", "strokeWidth": 3}, "encoding": {"detail": {"field": "id", "type": "nominal"}}},
   {"data": {"name": "p4C"}, "mark": {"type": "line", "color": "#444", "strokeWidth": 0.8, "interpolate": "basis"}, "encoding": {"detail": {"field": "id", "type": "nominal"}, "order": {"field": "o", "type": "quantitative"}}},
   {"data": {"name": "p4T"}, "mark": {"type": "text", "font": "DejaVu Sans Mono", "fontSize": 12, "stroke": "#fff", "strokeWidth": 4, "strokeJoin": "round", "color": "#fff"}, "encoding": {"text": {"field": "t"}}},
   {"data": {"name": "p4T"}, "mark": {"type": "text", "font": "DejaVu Sans Mono", "fontSize": 12, "color": "#111"}, "encoding": {"text": {"field": "t"}}},
   {"data": {"name": "p4B"}, "mark": {"type": "rect", "fill": "#fff", "stroke": "#777", "strokeWidth": 1.2}, "encoding": {"x2": {"field": "x2"}, "y2": {"field": "v2"}}},
   {"data": {"name": "p4BT"}, "transform": [{"filter": "datum.k == 'a'"}], "mark": {"type": "text", "font": "Liberation Sans", "fontSize": 28, "fontWeight": "bold", "color": "#000"}, "encoding": {"text": {"field": "t"}}},
   {"data": {"name": "p4BT"}, "transform": [{"filter": "datum.k == 'b'"}], "mark": {"type": "text", "font": "Liberation Sans", "fontSize": 18, "fontWeight": "bold", "color": "#000"}, "encoding": {"text": {"field": "t"}}},
   {"data": {"name": "p4M"}, "mark": {"type": "point", "filled": true, "color": "#000", "opacity": 1, "size": 55}, "encoding": {"shape": {"field": "s", "type": "nominal", "scale": {"domain": ["a","b","c"], "range": ["triangle-up","diamond","triangle-down"]}, "legend": null}}}
  ]
 }
]
}
